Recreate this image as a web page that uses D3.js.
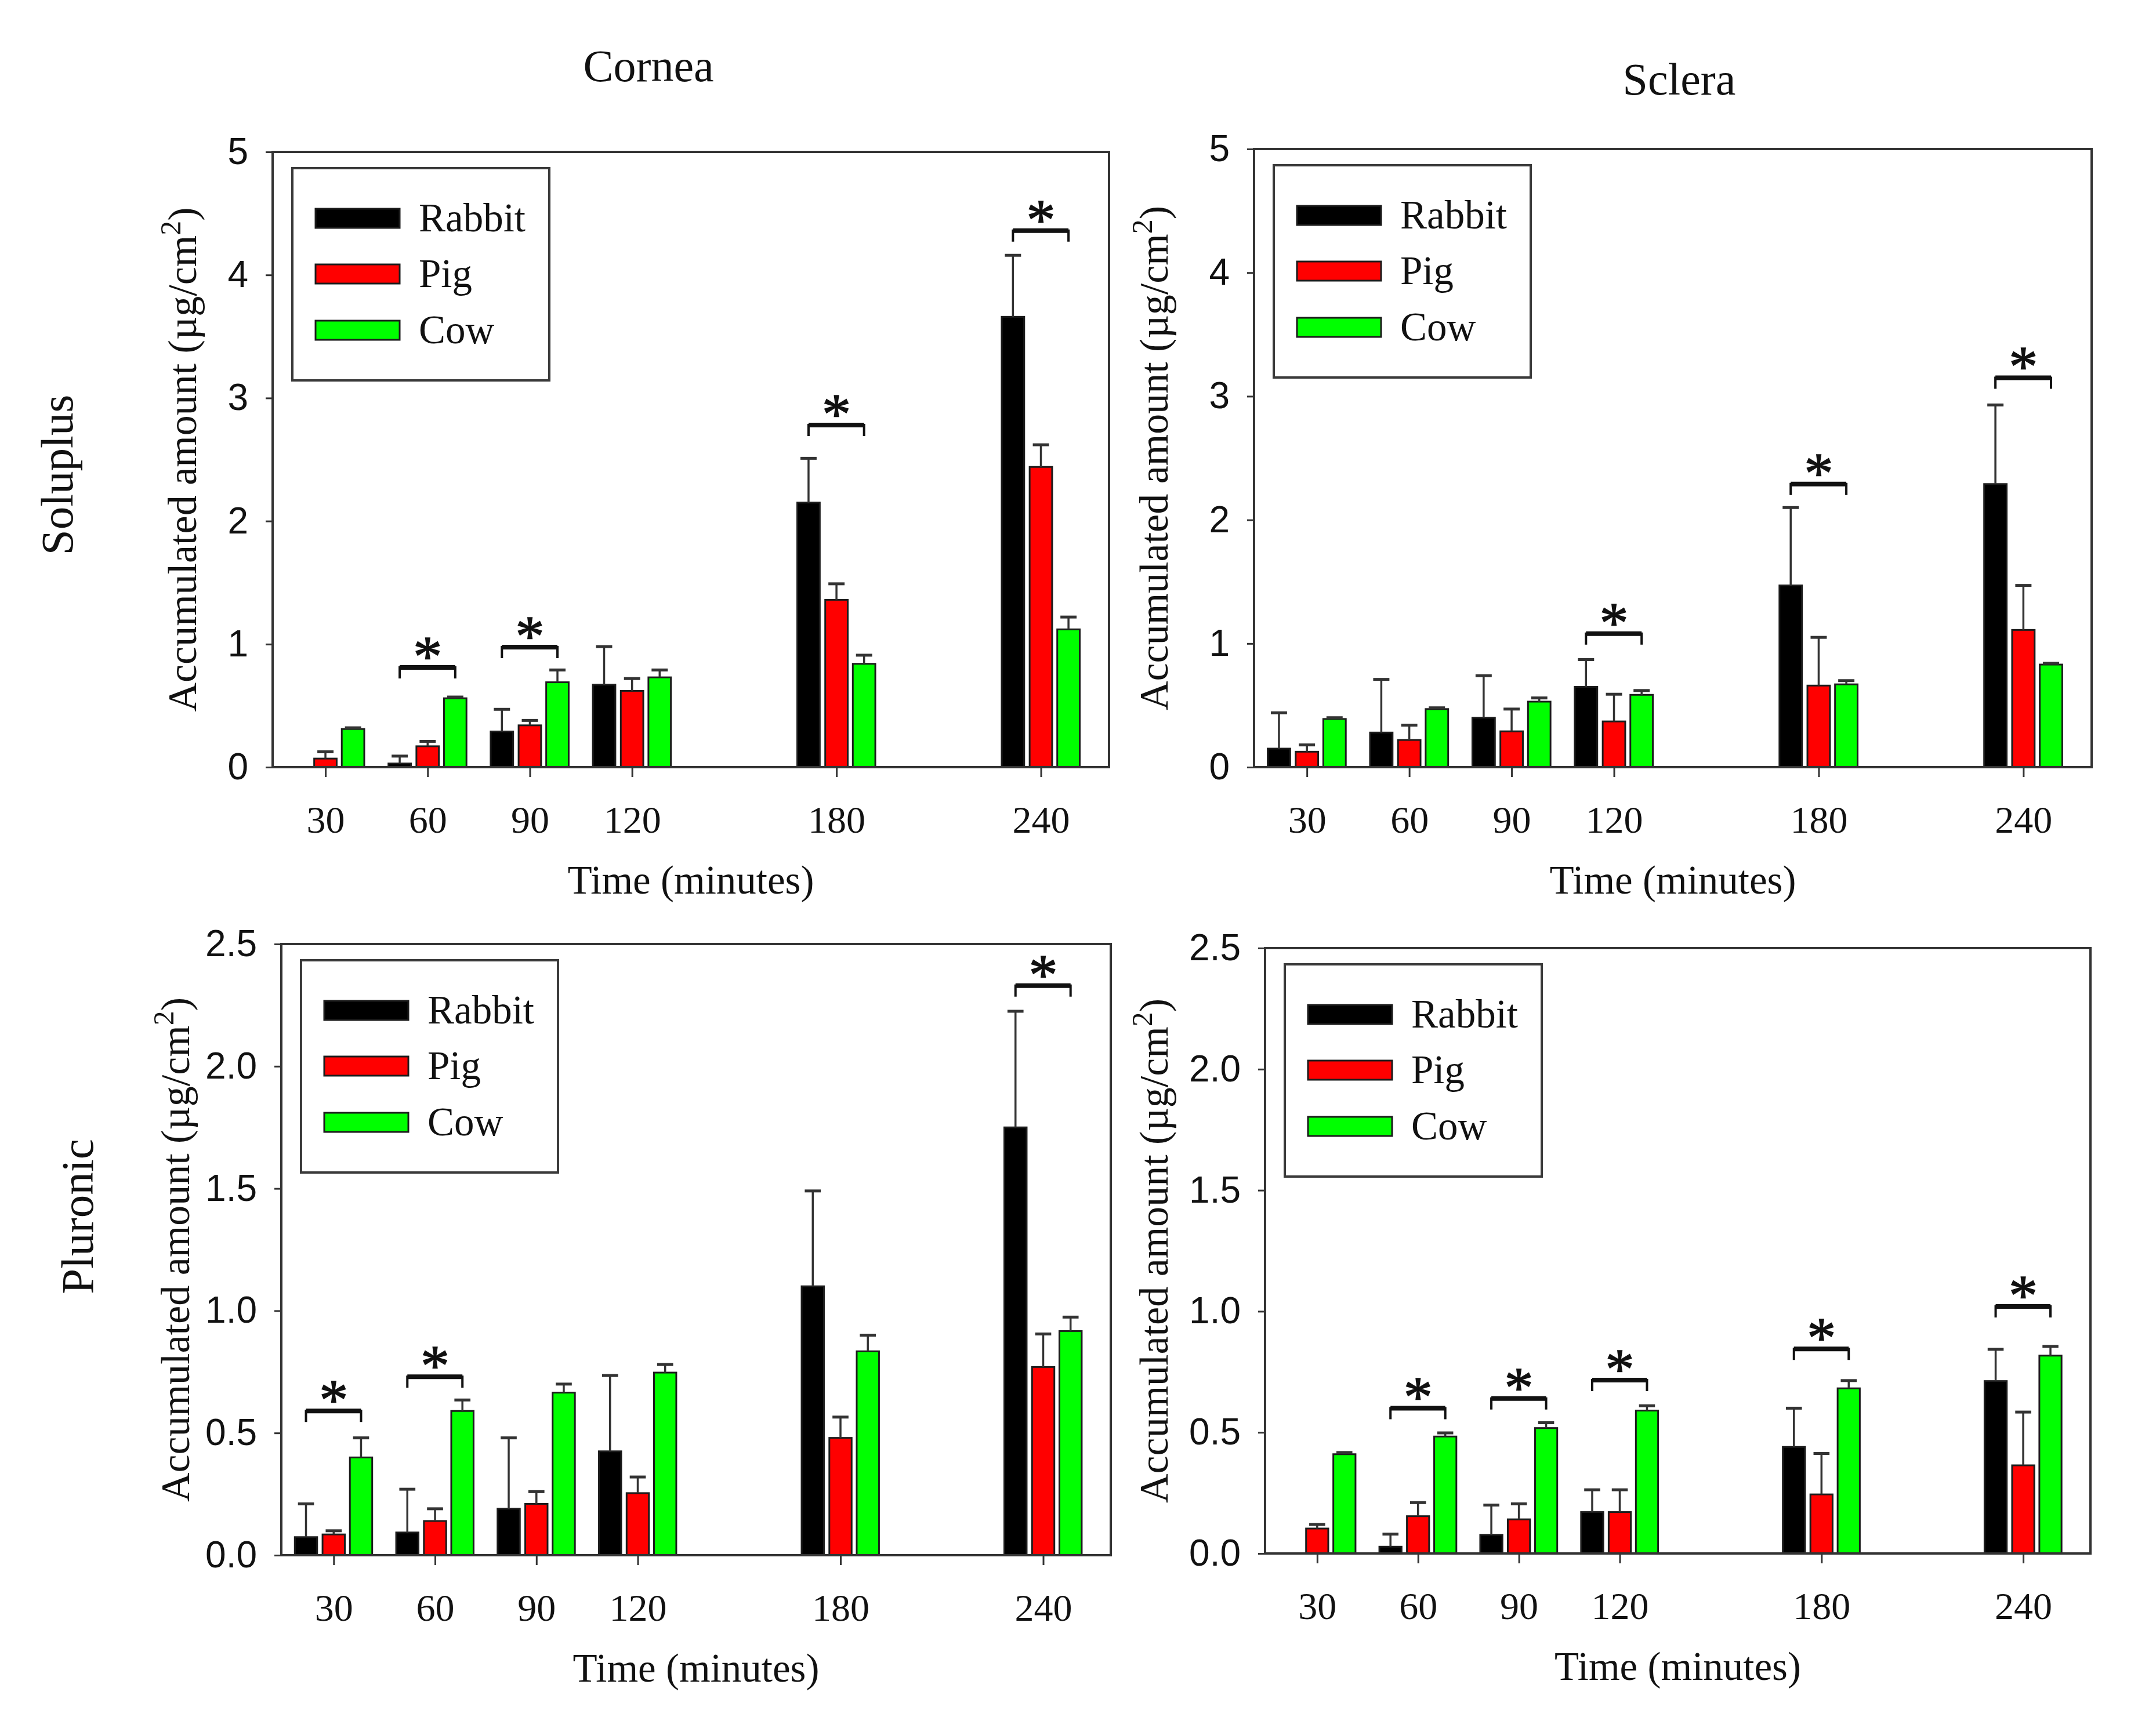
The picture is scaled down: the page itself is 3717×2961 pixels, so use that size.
<!DOCTYPE html>
<html>
<head>
<meta charset="utf-8">
<script src="https://cdn.jsdelivr.net/npm/d3@7"></script>
<style>
  body { margin: 0; background: #fff; }
  svg { display: block; background: #fff; }
</style>
</head>
<body>
<svg id="chart" width="3717" height="2961"></svg>
<script>
var times = [30, 60, 90, 120, 180, 240];
var species = ["Rabbit", "Pig", "Cow"];
var speciesColors = ["#000000", "#ff0000", "#00ff00"];

// Soluplus - cornea (mean, sd)
var solCorneaRabbit = [0, 0.03, 0.29, 0.67, 2.15, 3.66];
var solCorneaRabbitSd = [0, 0.06, 0.18, 0.31, 0.36, 0.50];
var solCorneaPig = [0.07, 0.17, 0.34, 0.62, 1.36, 2.44];
var solCorneaPigSd = [0.055, 0.04, 0.04, 0.10, 0.13, 0.18];
var solCorneaCow = [0.31, 0.56, 0.69, 0.73, 0.84, 1.12];
var solCorneaCowSd = [0.01, 0.01, 0.10, 0.06, 0.07, 0.10];
var solCorneaSigTimes = [60, 90, 180, 240];
var solCorneaSigLevel = [0.81, 0.975, 2.78, 4.36];

// Soluplus - sclera
var solScleraRabbit = [0.15, 0.28, 0.40, 0.65, 1.47, 2.29];
var solScleraRabbitSd = [0.29, 0.43, 0.34, 0.22, 0.63, 0.64];
var solScleraPig = [0.125, 0.22, 0.29, 0.37, 0.66, 1.11];
var solScleraPigSd = [0.055, 0.12, 0.18, 0.22, 0.39, 0.36];
var solScleraCow = [0.39, 0.47, 0.53, 0.585, 0.67, 0.83];
var solScleraCowSd = [0.01, 0.01, 0.03, 0.035, 0.03, 0.01];
var solScleraSigTimes = [120, 180, 240];
var solScleraSigLevel = [1.08, 2.29, 3.15];

// Pluronic - cornea
var pluCorneaRabbit = [0.074, 0.093, 0.19, 0.425, 1.10, 1.75];
var pluCorneaRabbitSd = [0.136, 0.177, 0.29, 0.31, 0.39, 0.475];
var pluCorneaPig = [0.085, 0.14, 0.21, 0.254, 0.48, 0.77];
var pluCorneaPigSd = [0.015, 0.05, 0.05, 0.066, 0.085, 0.135];
var pluCorneaCow = [0.40, 0.59, 0.665, 0.747, 0.834, 0.917];
var pluCorneaCowSd = [0.08, 0.045, 0.035, 0.033, 0.066, 0.057];
var pluCorneaSigTimes = [30, 60, 240];
var pluCorneaSigLevel = [0.59, 0.73, 2.33];

// Pluronic - sclera
var pluScleraRabbit = [0, 0.028, 0.077, 0.171, 0.44, 0.712];
var pluScleraRabbitSd = [0, 0.052, 0.123, 0.092, 0.16, 0.131];
var pluScleraPig = [0.103, 0.154, 0.141, 0.171, 0.244, 0.364];
var pluScleraPigSd = [0.017, 0.056, 0.064, 0.092, 0.169, 0.22];
var pluScleraCow = [0.41, 0.483, 0.518, 0.59, 0.682, 0.817];
var pluScleraCowSd = [0.007, 0.015, 0.022, 0.02, 0.032, 0.038];
var pluScleraSigTimes = [60, 90, 120, 180, 240];
var pluScleraSigLevel = [0.60, 0.64, 0.716, 0.845, 1.02];

var topTicks = [0, 1, 2, 3, 4, 5];
var bottomTicks = [0, 0.5, 1.0, 1.5, 2.0, 2.5];

var serif = "'Liberation Serif', 'Times New Roman', serif";
var sans = "'Liberation Sans', Arial, sans-serif";
var lineColor = "#333";

// offsets of the three bars from the time value, in minutes
var barOffset = [-8.2, 0, 8.1];
var barHalf = 3.3;

var panels = [
  { title: "Cornea", titleX: 1118, titleY: 140, row: "Soluplus", rowX: 125, rowY: 819,
    means: [solCorneaRabbit, solCorneaPig, solCorneaCow],
    sds: [solCorneaRabbitSd, solCorneaPigSd, solCorneaCowSd],
    sigTimes: solCorneaSigTimes, sigLevel: solCorneaSigLevel,
    yMax: 5, yTicks: topTicks, fmt: d3.format("d"),
    l: 470, t: 262, r: 1912, b: 1323, yTitleX: 338 },
  { title: "Sclera", titleX: 2895, titleY: 163,
    means: [solScleraRabbit, solScleraPig, solScleraCow],
    sds: [solScleraRabbitSd, solScleraPigSd, solScleraCowSd],
    sigTimes: solScleraSigTimes, sigLevel: solScleraSigLevel,
    yMax: 5, yTicks: topTicks, fmt: d3.format("d"),
    l: 2162, t: 257, r: 3606, b: 1323, yTitleX: 2013 },
  { row: "Pluronic", rowX: 160, rowY: 2098,
    means: [pluCorneaRabbit, pluCorneaPig, pluCorneaCow],
    sds: [pluCorneaRabbitSd, pluCorneaPigSd, pluCorneaCowSd],
    sigTimes: pluCorneaSigTimes, sigLevel: pluCorneaSigLevel,
    yMax: 2.5, yTicks: bottomTicks, fmt: d3.format(".1f"),
    l: 485, t: 1628, r: 1915, b: 2682, yTitleX: 326 },
  { means: [pluScleraRabbit, pluScleraPig, pluScleraCow],
    sds: [pluScleraRabbitSd, pluScleraPigSd, pluScleraCowSd],
    sigTimes: pluScleraSigTimes, sigLevel: pluScleraSigLevel,
    yMax: 2.5, yTicks: bottomTicks, fmt: d3.format(".1f"),
    l: 2181, t: 1635, r: 3604, b: 2679, yTitleX: 2013 }
];

var svg = d3.select("#chart");
svg.append("rect").attr("width", 3717).attr("height", 2961).attr("fill", "#fff");

panels.forEach(function(p) {
  var x = d3.scaleLinear().domain([14.5, 260]).range([p.l, p.r]);
  var y = d3.scaleLinear().domain([0, p.yMax]).range([p.b, p.t]);
  var g = svg.append("g");

  // bars
  species.forEach(function(sp, si) {
    var rows = times.map(function(tm, i) {
      return { t: tm, v: p.means[si][i], sd: p.sds[si][i] };
    });
    var sg = g.append("g");
    sg.selectAll("rect")
      .data(rows.filter(function(d) { return d.v > 0; }))
      .enter().append("rect")
      .attr("x", function(d) { return x(d.t + barOffset[si] - barHalf); })
      .attr("width", function(d) { return x(d.t + barOffset[si] + barHalf) - x(d.t + barOffset[si] - barHalf); })
      .attr("y", function(d) { return y(d.v); })
      .attr("height", function(d) { return y(0) - y(d.v); })
      .attr("fill", speciesColors[si])
      .attr("stroke", "#1c1c1c")
      .attr("stroke-width", 3);

    var eb = sg.selectAll("g.err")
      .data(rows.filter(function(d) { return d.sd > 0; }))
      .enter().append("g").attr("class", "err");
    eb.append("line")
      .attr("x1", function(d) { return x(d.t + barOffset[si]); })
      .attr("x2", function(d) { return x(d.t + barOffset[si]); })
      .attr("y1", function(d) { return y(d.v); })
      .attr("y2", function(d) { return y(d.v + d.sd); })
      .attr("stroke", lineColor).attr("stroke-width", 3.5);
    eb.append("line")
      .attr("x1", function(d) { return x(d.t + barOffset[si] - barHalf * 0.72); })
      .attr("x2", function(d) { return x(d.t + barOffset[si] + barHalf * 0.72); })
      .attr("y1", function(d) { return y(d.v + d.sd); })
      .attr("y2", function(d) { return y(d.v + d.sd); })
      .attr("stroke", lineColor).attr("stroke-width", 5);
  });

  // significance brackets
  var sig = p.sigTimes.map(function(tm, i) { return { t: tm, v: p.sigLevel[i] }; });
  var br = g.selectAll("g.sig").data(sig).enter().append("g").attr("class", "sig");
  br.append("path")
    .attr("d", function(d) {
      var x1 = x(d.t + barOffset[0]), x2 = x(d.t + barOffset[2]), yy = y(d.v);
      return "M" + x1 + "," + (yy + 19) + "V" + yy + "H" + x2 + "V" + (yy + 19);
    })
    .attr("fill", "none").attr("stroke", "#111").attr("stroke-width", 4);
  br.append("line")
    .attr("x1", function(d) { return x(d.t + barOffset[0]); })
    .attr("x2", function(d) { return x(d.t + barOffset[2]); })
    .attr("y1", function(d) { return y(d.v); })
    .attr("y2", function(d) { return y(d.v); })
    .attr("stroke", "#111").attr("stroke-width", 8);
  br.append("text")
    .attr("x", function(d) { return x(d.t); })
    .attr("y", function(d) { return y(d.v) + 14; })
    .attr("text-anchor", "middle")
    .attr("font-family", serif).attr("font-size", 100)
    .attr("fill", "#111").attr("stroke", "#111").attr("stroke-width", 1.5)
    .text("*");

  // frame
  g.append("rect")
    .attr("x", p.l).attr("y", p.t)
    .attr("width", p.r - p.l).attr("height", p.b - p.t)
    .attr("fill", "none").attr("stroke", lineColor).attr("stroke-width", 4);

  // axes
  var ya = g.append("g").attr("transform", "translate(" + p.l + ",0)")
    .call(d3.axisLeft(y).tickValues(p.yTicks).tickSize(12).tickPadding(30).tickFormat(p.fmt));
  ya.select(".domain").remove();
  ya.selectAll("line").attr("stroke", lineColor).attr("stroke-width", 3);
  ya.selectAll("text").attr("font-family", sans).attr("font-size", 64).attr("fill", "#111");

  var xa = g.append("g").attr("transform", "translate(0," + p.b + ")")
    .call(d3.axisBottom(x).tickValues(times).tickSize(17).tickFormat(d3.format("d")));
  xa.select(".domain").remove();
  xa.selectAll("line").attr("stroke", lineColor).attr("stroke-width", 3);
  xa.selectAll("text").attr("y", 113).attr("dy", null)
    .attr("font-family", serif).attr("font-size", 66).attr("fill", "#111");

  // axis titles
  g.append("text")
    .attr("x", (p.l + p.r) / 2).attr("y", p.b + 218)
    .attr("text-anchor", "middle")
    .attr("font-family", serif).attr("font-size", 69).attr("fill", "#111")
    .text("Time (minutes)");

  var yt = g.append("text")
    .attr("transform", "translate(" + p.yTitleX + "," + ((p.t + p.b) / 2) + ") rotate(-90)")
    .attr("text-anchor", "middle")
    .attr("font-family", serif).attr("font-size", 70).attr("fill", "#111");
  yt.append("tspan").text("Accumulated amount (\u00b5g/cm");
  yt.append("tspan").attr("dy", -27).attr("font-size", 50).text("2");
  yt.append("tspan").attr("dy", 27).text(")");

  // legend
  var lg = g.append("g").attr("transform", "translate(" + (p.l + 34) + "," + (p.t + 28) + ")");
  lg.append("rect").attr("width", 443).attr("height", 366)
    .attr("fill", "#fff").attr("stroke", "#3a3a3a").attr("stroke-width", 4);
  var li = lg.selectAll("g.item").data(species).enter().append("g")
    .attr("transform", function(d, i) { return "translate(0," + [86, 182, 279][i] + ")"; });
  li.append("rect")
    .attr("x", 40).attr("y", -16).attr("width", 145).attr("height", 33)
    .attr("fill", function(d, i) { return speciesColors[i]; })
    .attr("stroke", "#1c1c1c").attr("stroke-width", 3);
  li.append("text")
    .attr("x", 218).attr("y", 23)
    .attr("font-family", serif).attr("font-size", 69).attr("fill", "#111")
    .text(function(d) { return d; });

  if (p.title) {
    svg.append("text").attr("x", p.titleX).attr("y", p.titleY)
      .attr("text-anchor", "middle")
      .attr("font-family", serif).attr("font-size", 78).attr("fill", "#111")
      .text(p.title);
  }
  if (p.row) {
    svg.append("text")
      .attr("transform", "translate(" + p.rowX + "," + p.rowY + ") rotate(-90)")
      .attr("text-anchor", "middle")
      .attr("font-family", serif).attr("font-size", 79).attr("fill", "#111")
      .text(p.row);
  }
});
</script>
</body>
</html>
